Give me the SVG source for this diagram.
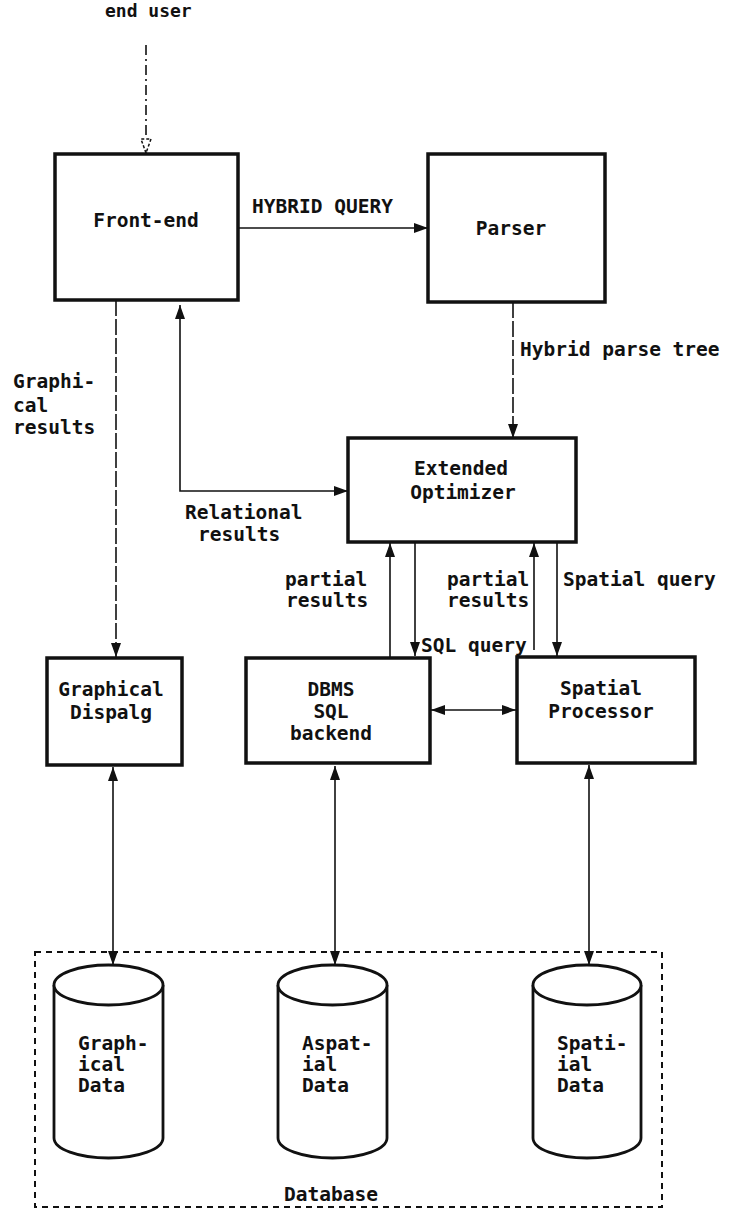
<svg xmlns="http://www.w3.org/2000/svg" width="729" height="1215" viewBox="0 0 729 1215">
<style>
  text { font-family: "DejaVu Sans Mono", "Liberation Mono", monospace; font-weight: bold; font-size: 19.5px; fill: #111; }
  .box { fill: #fff; stroke: #111; stroke-width: 3.5; }
  .cyl { fill: #fff; stroke: #111; stroke-width: 2.8; }
  .con { fill: none; stroke: #111; stroke-width: 1.6; }
  .dash { stroke-dasharray: 16 3; }
  .dashdot { stroke-dasharray: 10 4 2 4; }
  .mid { text-anchor: middle; }
  .db { fill: none; stroke: #111; stroke-width: 2; stroke-dasharray: 6 5; }
</style>
<defs>
  <marker id="ah" viewBox="0 0 14 10" refX="14" refY="5" markerWidth="14" markerHeight="10" markerUnits="userSpaceOnUse" orient="auto-start-reverse">
    <path d="M0,0 L14,5 L0,10 z" fill="#111"/>
  </marker>
  <marker id="ao" viewBox="0 0 16 12" refX="15" refY="6" markerWidth="16" markerHeight="12" markerUnits="userSpaceOnUse" orient="auto">
    <path d="M1,1 L15,6 L1,11 z" fill="#fff" stroke="#111" stroke-width="1.5" stroke-dasharray="3 2"/>
  </marker>
</defs>

<text x="105" y="17" style="font-size:18px">end user</text>

<g id="connectors">
  <line class="con dashdot" x1="146" y1="45" x2="146" y2="153" marker-end="url(#ao)"/>
  <line class="con" x1="238" y1="228" x2="428" y2="228" marker-end="url(#ah)"/>
  <line class="con dash" x1="513" y1="302" x2="513" y2="438" marker-end="url(#ah)"/>
  <line class="con dash" x1="116" y1="300" x2="116" y2="657" marker-end="url(#ah)"/>
  <polyline class="con" points="180,305 180,491 348,491" marker-start="url(#ah)" marker-end="url(#ah)"/>
  <line class="con" x1="390" y1="658" x2="390" y2="543" marker-end="url(#ah)"/>
  <line class="con" x1="415" y1="542" x2="415" y2="656" marker-end="url(#ah)"/>
  <line class="con" x1="534" y1="650" x2="534" y2="543" marker-end="url(#ah)"/>
  <line class="con" x1="557" y1="542" x2="557" y2="656" marker-end="url(#ah)"/>
  <line class="con" x1="431" y1="710" x2="516" y2="710" marker-start="url(#ah)" marker-end="url(#ah)"/>
  <line class="con" x1="113" y1="767" x2="113" y2="965" marker-start="url(#ah)" marker-end="url(#ah)"/>
  <line class="con" x1="335" y1="766" x2="335" y2="965" marker-start="url(#ah)" marker-end="url(#ah)"/>
  <line class="con" x1="589" y1="765" x2="589" y2="965" marker-start="url(#ah)" marker-end="url(#ah)"/>
</g>

<g id="labels">
  <text x="252" y="213">HYBRID QUERY</text>
  <text x="520" y="356">Hybrid parse tree</text>
  <text x="13" y="388">Graphi-</text>
  <text x="13" y="412">cal</text>
  <text x="13" y="434">results</text>
  <text x="185" y="519">Relational</text>
  <text x="198" y="541">results</text>
  <text x="285" y="586">partial</text>
  <text x="286" y="607">results</text>
  <text x="447" y="586">partial</text>
  <text x="447" y="607">results</text>
  <text x="563" y="586">Spatial query</text>
  <text x="421" y="652">SQL query</text>
</g>

<g id="front-end">
  <rect class="box" x="55" y="154" width="183" height="146"/>
  <text class="mid" x="146" y="227">Front-end</text>
</g>
<g id="parser">
  <rect class="box" x="428" y="154" width="177" height="148"/>
  <text class="mid" x="511" y="235">Parser</text>
</g>
<g id="extended-optimizer">
  <rect class="box" x="348" y="438" width="228" height="104"/>
  <text class="mid" x="461" y="475">Extended</text>
  <text class="mid" x="463" y="499">Optimizer</text>
</g>
<g id="graphical-display">
  <rect class="box" x="47" y="658" width="135" height="107"/>
  <text class="mid" x="111" y="696">Graphical</text>
  <text class="mid" x="111" y="719">Dispalg</text>
</g>
<g id="dbms">
  <rect class="box" x="246" y="658" width="184" height="105"/>
  <text class="mid" x="331" y="696">DBMS</text>
  <text class="mid" x="331" y="718">SQL</text>
  <text class="mid" x="331" y="740">backend</text>
</g>
<g id="spatial-processor">
  <rect class="box" x="517" y="657" width="178" height="106"/>
  <text class="mid" x="601" y="695">Spatial</text>
  <text class="mid" x="601" y="718">Processor</text>
</g>

<g id="database">
  <rect class="db" x="35" y="952" width="627" height="255"/>
  <text class="mid" x="331" y="1201">Database</text>
</g>
<g id="graphical-data">
  <path class="cyl" d="M54,985 L54,1138 A54.5,20 0 0 0 163,1138 L163,985"/>
  <ellipse class="cyl" cx="108.5" cy="985" rx="54.5" ry="20"/>
  <text x="78" y="1050">Graph-</text>
  <text x="78" y="1071">ical</text>
  <text x="78" y="1092">Data</text>
</g>
<g id="aspatial-data">
  <path class="cyl" d="M278,985 L278,1138 A54.5,20 0 0 0 387,1138 L387,985"/>
  <ellipse class="cyl" cx="332.5" cy="985" rx="54.5" ry="20"/>
  <text x="302" y="1050">Aspat-</text>
  <text x="302" y="1071">ial</text>
  <text x="302" y="1092">Data</text>
</g>
<g id="spatial-data">
  <path class="cyl" d="M533,985 L533,1138 A54,20 0 0 0 641,1138 L641,985"/>
  <ellipse class="cyl" cx="587" cy="985" rx="54" ry="20"/>
  <text x="557" y="1050">Spati-</text>
  <text x="557" y="1071">ial</text>
  <text x="557" y="1092">Data</text>
</g>
</svg>
